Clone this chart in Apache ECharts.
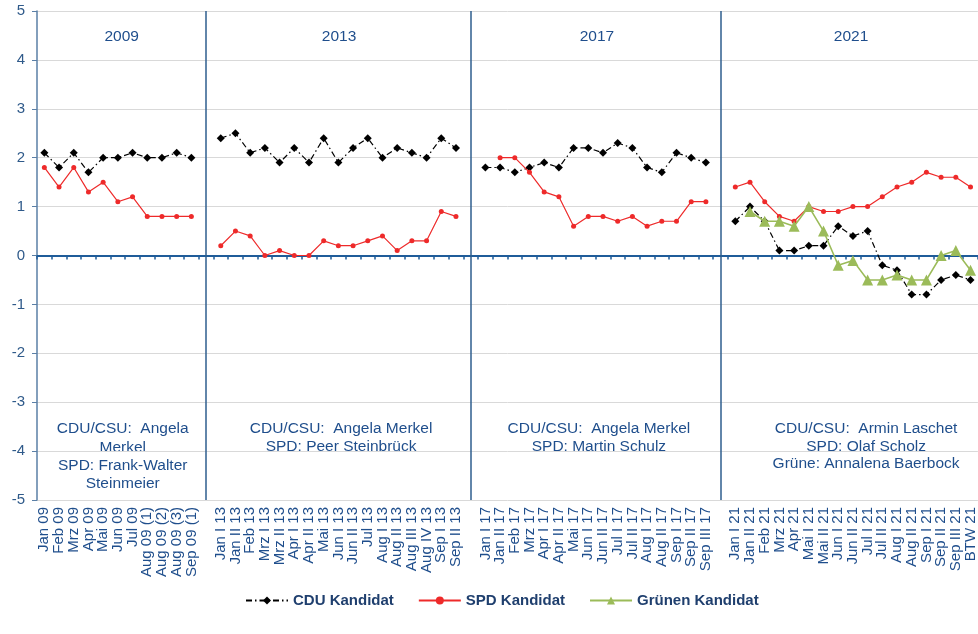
<!DOCTYPE html>
<html>
<head>
<meta charset="utf-8">
<script src="https://cdn.jsdelivr.net/npm/echarts@6/dist/echarts.min.js"></script>
<style>
  html, body { margin: 0; padding: 0; background: #fff; }
  #chart { width: 978px; height: 634px; }
</style>
</head>
<body>
<div id="chart"></div>
<script>
// Kategorien je Wahljahr
const cats2009 = ['Jan 09', 'Feb 09', 'Mrz 09', 'Apr 09', 'Mai 09', 'Jun 09', 'Jul 09', 'Aug 09 (1)', 'Aug 09 (2)', 'Aug 09 (3)', 'Sep 09 (1)']
const cats2013 = ['Jan I 13', 'Jan II 13', 'Feb 13', 'Mrz I 13', 'Mrz II 13', 'Apr I 13', 'Apr II 13', 'Mai 13', 'Jun I 13', 'Jun II 13', 'Jul 13', 'Aug I 13', 'Aug II 13', 'Aug III 13', 'Aug IV 13', 'Sep I 13', 'Sep II 13']
const cats2017 = ['Jan I 17', 'Jan II 17', 'Feb 17', 'Mrz 17', 'Apr I 17', 'Apr II 17', 'Mai 17', 'Jun I 17', 'Jun II 17', 'Jul I 17', 'Jul II 17', 'Aug I 17', 'Aug II 17', 'Sep I 17', 'Sep II 17', 'Sep III 17']
const cats2021 = ['Jan I 21', 'Jan II 21', 'Feb 21', 'Mrz 21', 'Apr 21', 'Mai I 21', 'Mai II 21', 'Jun I 21', 'Jun II 21', 'Jul I 21', 'Jul II 21', 'Aug I 21', 'Aug II 21', 'Sep I 21', 'Sep II 21', 'Sep III 21', 'BTW 21']

// Werte CDU-Kandidat
const cdu2009 = [2.1, 1.8, 2.1, 1.7, 2.0, 2.0, 2.1, 2.0, 2.0, 2.1, 2.0]
const cdu2013 = [2.4, 2.5, 2.1, 2.2, 1.9, 2.2, 1.9, 2.4, 1.9, 2.2, 2.4, 2.0, 2.2, 2.1, 2.0, 2.4, 2.2]
const cdu2017 = [1.8, 1.8, 1.7, 1.8, 1.9, 1.8, 2.2, 2.2, 2.1, 2.3, 2.2, 1.8, 1.7, 2.1, 2.0, 1.9]
const cdu2021 = [0.7, 1.0, 0.7, 0.1, 0.1, 0.2, 0.2, 0.6, 0.4, 0.5, -0.2, -0.3, -0.8, -0.8, -0.5, -0.4, -0.5]

// Werte SPD-Kandidat
const spd2009 = [1.8, 1.4, 1.8, 1.3, 1.5, 1.1, 1.2, 0.8, 0.8, 0.8, 0.8]
const spd2013 = [0.2, 0.5, 0.4, 0.0, 0.1, 0.0, 0.0, 0.3, 0.2, 0.2, 0.3, 0.4, 0.1, 0.3, 0.3, 0.9, 0.8]
const spd2017 = [null, 2.0, 2.0, 1.7, 1.3, 1.2, 0.6, 0.8, 0.8, 0.7, 0.8, 0.6, 0.7, 0.7, 1.1, 1.1]
const spd2021 = [1.4, 1.5, 1.1, 0.8, 0.7, 1.0, 0.9, 0.9, 1.0, 1.0, 1.2, 1.4, 1.5, 1.7, 1.6, 1.6, 1.4]

// Werte Grünen-Kandidat (nur 2021)
const gruene2021 = [null, 0.9, 0.7, 0.7, 0.6, 1.0, 0.5, -0.2, -0.1, -0.5, -0.5, -0.4, -0.5, -0.5, 0.0, 0.1, -0.3]

const yTicks = [-5, -4, -3, -2, -1, 0, 1, 2, 3, 4, 5]

const panels = [
  { year: '2009', cats: cats2009, info: ['CDU/CSU:  Angela', 'Merkel', 'SPD: Frank-Walter', 'Steinmeier'] },
  { year: '2013', cats: cats2013, info: ['CDU/CSU:  Angela Merkel', 'SPD: Peer Steinbrück'] },
  { year: '2017', cats: cats2017, info: ['CDU/CSU:  Angela Merkel', 'SPD: Martin Schulz'] },
  { year: '2021', cats: cats2021, info: ['CDU/CSU:  Armin Laschet', 'SPD: Olaf Scholz', 'Grüne: Annalena Baerbock'] }
]

// eine leere Kategorie zwischen den Wahljahren
const join = (parts) => {
  let out = []
  parts.forEach((p, i) => {
    if (i > 0) out.push(null)
    out = out.concat(p)
  })
  return out
}
const categories = join(panels.map(p => p.cats)).map(c => c === null ? '' : c)
const cduData = join([cdu2009, cdu2013, cdu2017, cdu2021])
const spdData = join([spd2009, spd2013, spd2017, spd2021])
const grueneData = join([cdu2009.map(() => null), cdu2013.map(() => null), cdu2017.map(() => null), gruene2021])
const separators = []
categories.forEach((c, i) => { if (c === '') separators.push(i) })

const FONT = 'Liberation Sans, Arial, sans-serif'
const BLUE_TEXT = '#1F4E8C'
const GRID_LEFT = 37
const GRID_RIGHT = -2
const GRID_TOP = 11
const GRID_BOTTOM = 134

const chart = echarts.init(document.getElementById('chart'))

// Panel-Mitten aus den Kategorie-Positionen
const plotW = 978 - GRID_LEFT - GRID_RIGHT
const step = plotW / categories.length
const bounds = [-0.5].concat(separators, [categories.length - 0.5])
const graphics = []
panels.forEach((p, i) => {
  const cx = GRID_LEFT + ((bounds[i] + bounds[i + 1]) / 2 + 0.5) * step
  graphics.push({
    type: 'text', x: cx, y: 37,
    style: { text: p.year, font: '15.5px ' + FONT, fill: BLUE_TEXT, align: 'center', verticalAlign: 'middle' }
  })
  const infoX = i === 3 ? cx + 15 : cx + (i === 0 ? 1 : 2)
  p.info.forEach((line, j) => {
    graphics.push({
      type: 'text', x: infoX, y: 429 + j * (p.info.length > 3 ? 18.3 : 17.5),
      style: { text: line, font: '15.5px ' + FONT, fill: BLUE_TEXT, align: 'center', verticalAlign: 'middle' }
    })
  })
})

chart.setOption({
  animation: false,
  backgroundColor: '#fff',
  textStyle: { fontFamily: FONT },
  grid: { left: GRID_LEFT, right: GRID_RIGHT, top: GRID_TOP, bottom: GRID_BOTTOM, containLabel: false },
  legend: {
    left: 240,
    top: 588,
    itemWidth: 42,
    itemHeight: 10,
    itemGap: 24,
    textStyle: { fontFamily: FONT, fontSize: 15, fontWeight: 'bold', color: '#1F3F6E' },
    data: ['CDU Kandidat', 'SPD Kandidat', 'Grünen Kandidat']
  },
  xAxis: [
    {
      type: 'category',
      data: categories,
      boundaryGap: true,
      axisLine: { show: false, onZero: false },
      axisTick: { show: false },
      axisLabel: {
        rotate: 90, interval: 0, margin: 7,
        fontFamily: FONT, fontSize: 15, color: BLUE_TEXT
      },
      splitLine: { show: false }
    },
    {
      type: 'category',
      data: categories,
      boundaryGap: true,
      position: 'bottom',
      axisLine: { show: true, onZero: true, lineStyle: { color: '#1F5C99', width: 2 } },
      axisTick: { show: true, interval: 0, length: 4, lineStyle: { color: '#1F5C99', width: 1.5 } },
      axisLabel: { show: false },
      splitLine: { show: false }
    }
  ],
  yAxis: {
    type: 'value',
    min: yTicks[0],
    max: yTicks[yTicks.length - 1],
    interval: 1,
    axisLine: { show: true, lineStyle: { color: '#5A7FA6', width: 1.5 } },
    axisTick: { show: true, length: 5, lineStyle: { color: '#5A7FA6' } },
    axisLabel: { fontFamily: FONT, fontSize: 15, color: '#2F5A8A', margin: 12 },
    splitLine: { lineStyle: { color: '#D9D9D9', width: 1 } }
  },
  series: [
    {
      name: 'CDU Kandidat',
      type: 'line',
      data: cduData,
      symbol: 'diamond',
      symbolSize: 8,
      itemStyle: { color: '#000' },
      lineStyle: { color: '#000', width: 1.2, type: [6, 3, 1.5, 3] },
      z: 3,
      markLine: {
        silent: true,
        symbol: 'none',
        label: { show: false },
        lineStyle: { color: '#2E5E8E', width: 1.5, type: 'solid' },
        data: separators.map(i => ({ xAxis: i }))
      }
    },
    {
      name: 'SPD Kandidat',
      type: 'line',
      data: spdData,
      symbol: 'circle',
      symbolSize: 5,
      itemStyle: { color: '#EE2A2A' },
      lineStyle: { color: '#EE2A2A', width: 1.2 },
      z: 4
    },
    {
      name: 'Grünen Kandidat',
      type: 'line',
      data: grueneData,
      symbol: 'triangle',
      symbolSize: 11,
      itemStyle: { color: '#9BBB59' },
      lineStyle: { color: '#9BBB59', width: 1.6 },
      z: 5
    }
  ],
  graphic: graphics
})
</script>
</body>
</html>
